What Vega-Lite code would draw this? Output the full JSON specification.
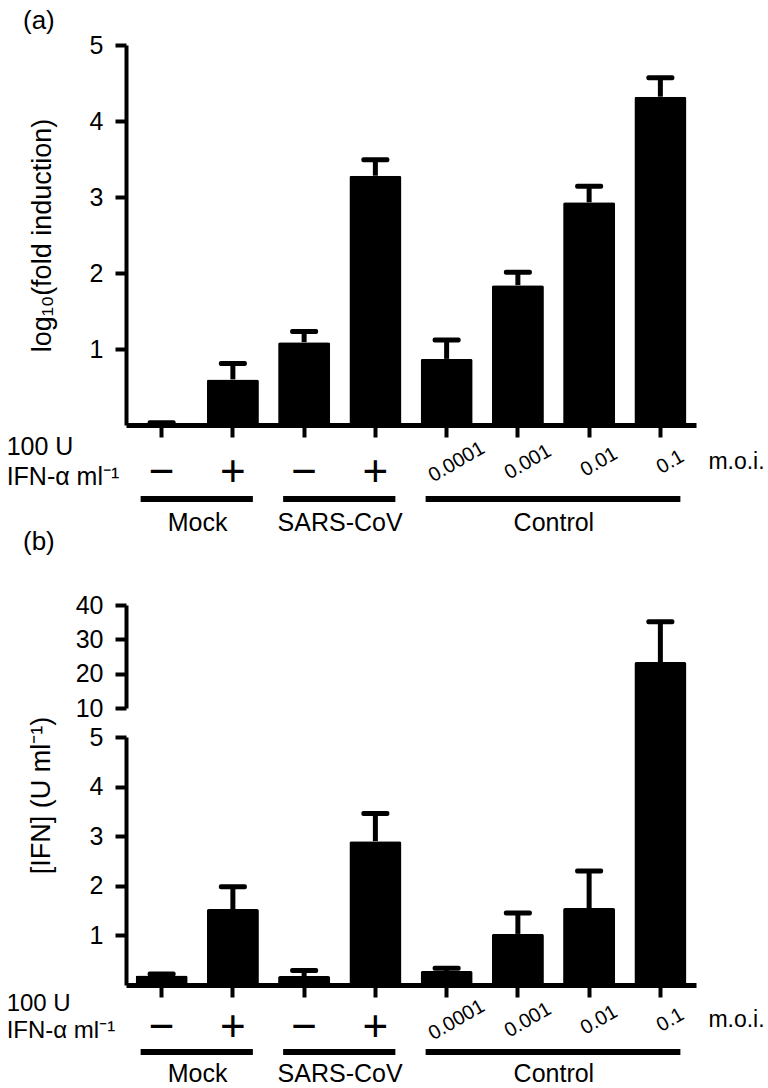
{
  "$schema": "https://vega.github.io/schema/vega-lite/v6.json",
  "background": "white",
  "padding": {"left": 6, "top": 8, "right": 5, "bottom": 0},
  "bounds": "flush",
  "spacing": 180,
  "datasets": {
    "fold": [
      {"cat": "M-", "group": "Mock", "lab": "−", "kind": "sign", "val": 0.02, "hi": 0.03},
      {"cat": "M+", "group": "Mock", "lab": "+", "kind": "sign", "val": 0.6, "hi": 0.81},
      {"cat": "S-", "group": "SARS-CoV", "lab": "−", "kind": "sign", "val": 1.09, "hi": 1.23},
      {"cat": "S+", "group": "SARS-CoV", "lab": "+", "kind": "sign", "val": 3.28, "hi": 3.49},
      {"cat": "C1", "group": "Control", "lab": "0.0001", "kind": "moi", "val": 0.87, "hi": 1.12},
      {"cat": "C2", "group": "Control", "lab": "0.001", "kind": "moi", "val": 1.84, "hi": 2.01},
      {"cat": "C3", "group": "Control", "lab": "0.01", "kind": "moi", "val": 2.93, "hi": 3.14},
      {"cat": "C4", "group": "Control", "lab": "0.1", "kind": "moi", "val": 4.32, "hi": 4.57}
    ],
    "ifn": [
      {"cat": "M-", "group": "Mock", "lab": "−", "kind": "sign", "val": 0.19, "hi": 0.22},
      {"cat": "M+", "group": "Mock", "lab": "+", "kind": "sign", "val": 1.53, "hi": 1.98},
      {"cat": "S-", "group": "SARS-CoV", "lab": "−", "kind": "sign", "val": 0.18, "hi": 0.29},
      {"cat": "S+", "group": "SARS-CoV", "lab": "+", "kind": "sign", "val": 2.9, "hi": 3.46},
      {"cat": "C1", "group": "Control", "lab": "0.0001", "kind": "moi", "val": 0.28, "hi": 0.34},
      {"cat": "C2", "group": "Control", "lab": "0.001", "kind": "moi", "val": 1.03, "hi": 1.45},
      {"cat": "C3", "group": "Control", "lab": "0.01", "kind": "moi", "val": 1.55, "hi": 2.3},
      {"cat": "C4", "group": "Control", "lab": "0.1", "kind": "moi", "val": 23.4, "hi": 35.1}
    ],
    "groups": [
      {"group": "Mock", "first": "M-", "last": "M+", "mid": "M-"},
      {"group": "SARS-CoV", "first": "S-", "last": "S+", "mid": "S-"},
      {"group": "Control", "first": "C1", "last": "C4", "mid": "C2"}
    ]
  },
  "config": {
    "font": "Liberation Sans",
    "view": {"stroke": null},
    "axis": {"domainColor": "black", "tickColor": "black", "labelColor": "black", "titleColor": "black", "grid": false, "labelFont": "Liberation Sans", "titleFont": "Liberation Sans", "titleFontWeight": "normal"},
    "axisY": {"domainWidth": 4, "tickWidth": 4, "tickSize": 11, "labelFontSize": 25, "labelPadding": 12, "titleFontSize": 27, "format": "d"},
    "axisX": {"labels": false, "domainWidth": 5, "tickWidth": 4, "tickSize": 12},
    "text": {"color": "black", "font": "Liberation Sans"},
    "title": {"fontWeight": "normal", "fontSize": 26, "anchor": "start", "frame": "group", "color": "black", "font": "Liberation Sans"}
  },
  "vconcat": [
    {
      "width": 570,
      "height": 380,
      "title": {"text": "(a)", "dx": -103, "offset": -1},
      "data": {"name": "fold"},
      "layer": [
        {
          "mark": {"type": "bar", "color": "black", "cornerRadiusTopLeft": 2, "cornerRadiusTopRight": 2},
          "encoding": {
            "x": {"field": "cat", "type": "nominal", "sort": null, "scale": {"domain": ["M-", "M+", "S-", "S+", "C1", "C2", "C3", "C4"], "paddingInner": 0.27, "paddingOuter": 0.135}, "axis": {"title": null}},
            "y": {"field": "val", "type": "quantitative", "scale": {"domain": [0, 5], "nice": false}, "axis": {"values": [1, 2, 3, 4, 5], "title": "log₁₀(fold induction)", "titlePadding": 33}}
          }
        },
        {
          "mark": {"type": "rule", "strokeWidth": 5, "color": "black"},
          "encoding": {"x": {"field": "cat", "type": "nominal"}, "y": {"field": "val", "type": "quantitative"}, "y2": {"field": "hi"}}
        },
        {
          "mark": {"type": "tick", "size": 28, "thickness": 5, "color": "black", "opacity": 1, "cornerRadius": 2},
          "encoding": {"x": {"field": "cat", "type": "nominal"}, "y": {"field": "hi", "type": "quantitative"}}
        },
        {
          "transform": [{"filter": "datum.kind === 'sign'"}],
          "mark": {"type": "text", "fontSize": 44, "baseline": "middle", "align": "center", "yOffset": 48},
          "encoding": {"x": {"field": "cat", "type": "nominal"}, "y": {"datum": 0}, "text": {"field": "lab"}}
        },
        {
          "transform": [{"filter": "datum.kind === 'moi'"}],
          "mark": {"type": "text", "fontSize": 20, "angle": 330, "baseline": "middle", "align": "center", "xOffset": 10, "yOffset": 37},
          "encoding": {"x": {"field": "cat", "type": "nominal"}, "y": {"datum": 0}, "text": {"field": "lab"}}
        },
        {
          "data": {"values": [{"t": "100 U"}]},
          "mark": {"type": "text", "fontSize": 25, "align": "left", "baseline": "middle", "xOffset": -155, "yOffset": 22},
          "encoding": {"x": {"datum": "M-"}, "y": {"datum": 0}, "text": {"field": "t"}}
        },
        {
          "data": {"values": [{"t": "IFN-α ml⁻¹"}]},
          "mark": {"type": "text", "fontSize": 25, "align": "left", "baseline": "middle", "xOffset": -155, "yOffset": 52},
          "encoding": {"x": {"datum": "M-"}, "y": {"datum": 0}, "text": {"field": "t"}}
        },
        {
          "data": {"values": [{"t": "m.o.i."}]},
          "mark": {"type": "text", "fontSize": 23, "align": "left", "baseline": "middle", "xOffset": 48, "yOffset": 37},
          "encoding": {"x": {"datum": "C4"}, "y": {"datum": 0}, "text": {"field": "t"}}
        },
        {
          "data": {"name": "groups"},
          "mark": {"type": "rule", "strokeWidth": 6, "color": "black", "xOffset": -21, "x2Offset": 20, "yOffset": 74},
          "encoding": {"x": {"field": "first", "type": "nominal"}, "x2": {"field": "last"}, "y": {"datum": 0}}
        },
        {
          "data": {"name": "groups"},
          "mark": {"type": "text", "fontSize": 25, "baseline": "middle", "align": "center", "xOffset": 36, "yOffset": 98},
          "encoding": {"x": {"field": "mid", "type": "nominal"}, "y": {"datum": 0}, "text": {"field": "group"}}
        }
      ]
    },
    {
      "width": 570,
      "height": 380,
      "title": {"text": "(b)", "dx": -103, "offset": 38},
      "data": {"name": "ifn"},
      "layer": [
        {
          "mark": {"type": "bar", "color": "black", "cornerRadiusTopLeft": 2, "cornerRadiusTopRight": 2},
          "encoding": {
            "x": {"field": "cat", "type": "nominal", "sort": null, "scale": {"domain": ["M-", "M+", "S-", "S+", "C1", "C2", "C3", "C4"], "paddingInner": 0.27, "paddingOuter": 0.135}, "axis": {"title": null}},
            "y": {"field": "val", "type": "quantitative", "scale": {"domain": [0, 5, 10, 40], "range": [380, 132, 103, 0], "nice": false, "zero": false}, "axis": {"values": [1, 2, 3, 4, 5, 10, 20, 30, 40], "title": "[IFN] (U ml⁻¹)", "titlePadding": 20, "domainDash": [248, 29, 200]}}
          }
        },
        {
          "mark": {"type": "rule", "strokeWidth": 5, "color": "black"},
          "encoding": {"x": {"field": "cat", "type": "nominal"}, "y": {"field": "val", "type": "quantitative"}, "y2": {"field": "hi"}}
        },
        {
          "mark": {"type": "tick", "size": 28, "thickness": 5, "color": "black", "opacity": 1, "cornerRadius": 2},
          "encoding": {"x": {"field": "cat", "type": "nominal"}, "y": {"field": "hi", "type": "quantitative"}}
        },
        {
          "transform": [{"filter": "datum.kind === 'sign'"}],
          "mark": {"type": "text", "fontSize": 44, "baseline": "middle", "align": "center", "yOffset": 43},
          "encoding": {"x": {"field": "cat", "type": "nominal"}, "y": {"datum": 0}, "text": {"field": "lab"}}
        },
        {
          "transform": [{"filter": "datum.kind === 'moi'"}],
          "mark": {"type": "text", "fontSize": 20, "angle": 330, "baseline": "middle", "align": "center", "xOffset": 10, "yOffset": 35},
          "encoding": {"x": {"field": "cat", "type": "nominal"}, "y": {"datum": 0}, "text": {"field": "lab"}}
        },
        {
          "data": {"values": [{"t": "100 U"}]},
          "mark": {"type": "text", "fontSize": 24, "align": "left", "baseline": "middle", "xOffset": -155, "yOffset": 19},
          "encoding": {"x": {"datum": "M-"}, "y": {"datum": 0}, "text": {"field": "t"}}
        },
        {
          "data": {"values": [{"t": "IFN-α ml⁻¹"}]},
          "mark": {"type": "text", "fontSize": 24, "align": "left", "baseline": "middle", "xOffset": -155, "yOffset": 46},
          "encoding": {"x": {"datum": "M-"}, "y": {"datum": 0}, "text": {"field": "t"}}
        },
        {
          "data": {"values": [{"t": "m.o.i."}]},
          "mark": {"type": "text", "fontSize": 23, "align": "left", "baseline": "middle", "xOffset": 48, "yOffset": 35},
          "encoding": {"x": {"datum": "C4"}, "y": {"datum": 0}, "text": {"field": "t"}}
        },
        {
          "data": {"name": "groups"},
          "mark": {"type": "rule", "strokeWidth": 6, "color": "black", "xOffset": -21, "x2Offset": 20, "yOffset": 67},
          "encoding": {"x": {"field": "first", "type": "nominal"}, "x2": {"field": "last"}, "y": {"datum": 0}}
        },
        {
          "data": {"name": "groups"},
          "mark": {"type": "text", "fontSize": 25, "baseline": "middle", "align": "center", "xOffset": 36, "yOffset": 89},
          "encoding": {"x": {"field": "mid", "type": "nominal"}, "y": {"datum": 0}, "text": {"field": "group"}}
        }
      ]
    }
  ]
}
